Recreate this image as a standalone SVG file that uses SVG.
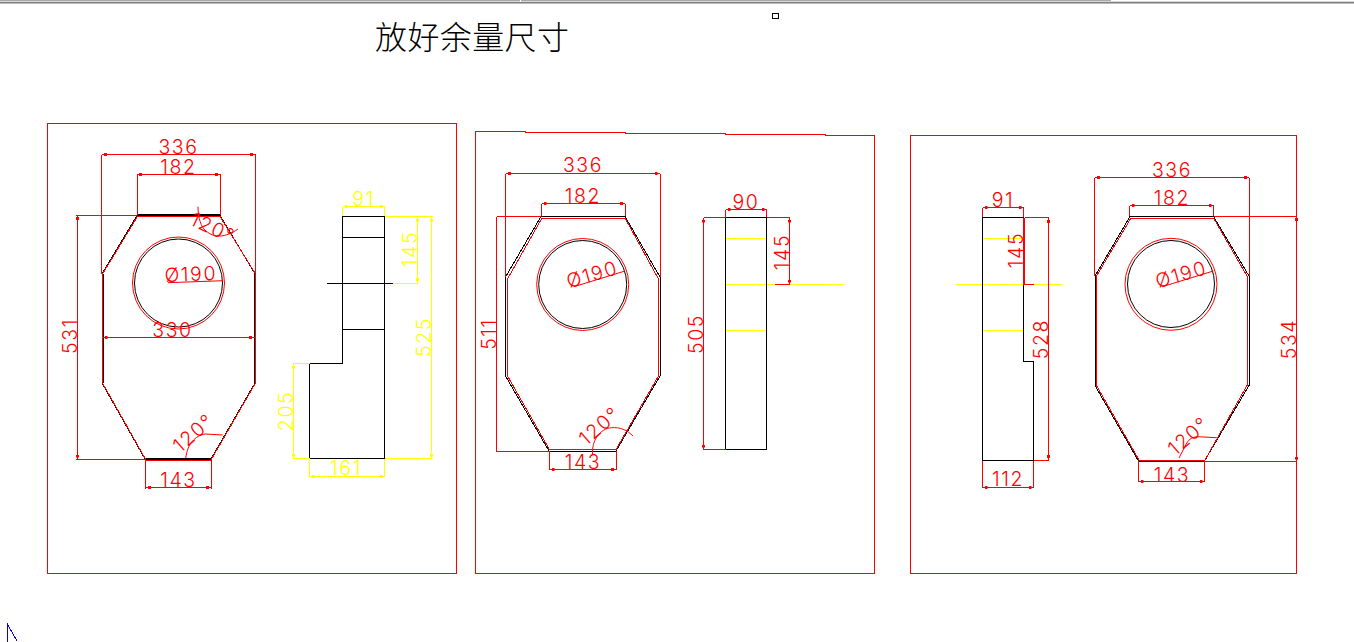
<svg xmlns="http://www.w3.org/2000/svg" width="1354" height="642" viewBox="0 0 1354 642">
<style>
svg{background:#fff}
path,rect,circle,polygon{fill:none;stroke-width:1}
.k{stroke:#000;shape-rendering:crispEdges}
.r{stroke:#f00;shape-rendering:crispEdges}
.y{stroke:#ff0;shape-rendering:crispEdges}
.rm{marker-mid:url(#tr)}
.ym{marker-mid:url(#ty)}
.c{stroke:#f00}
.ck{stroke:#000}
text{font-family:"Inter","Liberation Sans",sans-serif;font-weight:300;font-size:19.5px;letter-spacing:1.6px;text-anchor:middle}
.dr{fill:#f00}
.dy{fill:#ff0}
.title{font-family:"Noto Sans CJK SC",sans-serif;font-weight:300;font-size:32px;letter-spacing:.4px;text-anchor:start;fill:#000}
</style>
<defs>
<marker id="tr" viewBox="0 0 3 3" refX="1.5" refY="1.5" markerWidth="3" markerHeight="3" markerUnits="userSpaceOnUse"><rect width="3" height="3" style="fill:#f00;stroke:none"/></marker>
<marker id="ty" viewBox="0 0 3 3" refX="1.5" refY="1.5" markerWidth="3" markerHeight="3" markerUnits="userSpaceOnUse"><rect width="3" height="3" style="fill:#ff0;stroke:none"/></marker>
</defs>

<g id="window-edge">
<rect x="0" y="0" width="1111" height="1" style="fill:#a8a8a8;stroke:none"/>
<rect x="0" y="1" width="1354" height="1" style="fill:#d8d8d8;stroke:none"/>
<rect x="0" y="2" width="1354" height="1" style="fill:#808080;stroke:none"/>
<rect x="0" y="3" width="1354" height="1" style="fill:#b8b8b8;stroke:none"/>
<rect x="520" y="0" width="1" height="2" style="fill:#fff;stroke:none"/>
</g>
<text class="title" x="375" y="49">放好余量尺寸</text>
<rect id="grip" class="k" x="772.5" y="13.5" width="6" height="5"/>
<path id="ucs-icon" d="M7.5 642V624.5L17 641" style="stroke:#00f;shape-rendering:crispEdges"/>

<g id="panel-1"><rect class="r" x="47.5" y="123.5" width="409" height="450"/></g>
<g id="panel-2"><path class="r" d="M475.5 131.5H525V132.5H625V133.5H725V134.5H825V135.5H874.5V573.5H475.5Z"/></g>
<g id="panel-3"><rect class="r" x="910.5" y="135.5" width="386" height="438"/></g>

<g id="front-view-1">
<path class="k" d="M137 215.5H220L255 274V383L211 459H145L102 383V274Z"/>
<path class="k" d="M137 214.5H220M103.500 274V383M254.500 274V383M146 458.500H211"/>
<path class="r" d="M137.500 216.500H220L255.500 274V383L211 460H146L102.500 383V274Z"/>
<circle class="ck" cx="178.500" cy="283" r="44"/>
<circle class="c" cx="178.500" cy="283" r="46"/>
</g>
<g id="side-view-1">
<path class="k" d="M342.500 216.500H384.500V458.500H309.500V363.500H342.500ZM342.500 237.500H384.500M327 283.500H393M342.500 329.500H384.500"/>
</g>

<g id="front-view-2">
<path class="k" d="M541 216.500H625L660 277V376L616 451H549L505.500 376V277Z"/>
<path class="r" d="M542 218H625L658.500 279V376L616 449.500H549.500L507.500 376V279Z"/>
<circle class="ck" cx="582.700" cy="284.500" r="44"/>
<circle class="c" cx="582.700" cy="284.500" r="46"/>
</g>
<g id="side-view-2">
<path class="y" d="M725.500 238.500H766.500M725.500 284.500H775M789 284.500H843.500M725.500 330.500H766.500"/>
<rect class="k" x="725.500" y="217.500" width="41" height="232"/>
</g>

<g id="side-view-3">
<path class="y" d="M982.500 238.500H1023.500M956 284.500H1023.500M1034 284.500H1061.500M982.500 330.500H1023.500"/>
<path class="k" d="M982.500 217.500H1023.500V361.500H1033.500V460.500H982.500Z"/>
</g>
<g id="front-view-3">
<path class="k" d="M1130 216.500H1213.500L1249 276V385.500L1204.500 461H1138.500L1095 385.500V276Z"/>
<path class="r" d="M1131 218H1213.500L1247 276V385.500L1205 460H1139L1096.500 385.500V276Z"/>
<circle class="ck" cx="1171" cy="284" r="43.500"/>
<circle class="c" cx="1171" cy="284.300" r="46"/>
</g>

<g id="connectors">
<path class="r rm" d="M102 154.500H105.500L251.500 154.500H255.500"/>
<path class="r" d="M101.500 154.500V274M255.500 154.500V274"/>
<path class="r rm" d="M137 174.500H140.500L216.500 174.500H220.500"/>
<path class="r" d="M137.500 174.500V215M220.500 174.500V215"/>
<path class="r rm" d="M77.500 215.500V218.500L77.500 456V459.500"/>
<path class="r" d="M76 215.500H137M76 459.500H145"/>
<path class="r rm" d="M102 337.500H106L250.500 337.500H255"/>
<path class="r rm" d="M145.500 487.500H149.500L207.500 487.500H211.500"/>
<path class="r" d="M145.500 459V489M211.500 459V489"/>
<path class="c" d="M198 206.700C198 218 201 227 206 231C214 238 225 238 238 229"/>
<path class="c" d="M185.700 458C187 450 189 445 192 441.700C196 437 200 435 205 434L222.700 435"/>

<path class="y ym" d="M342.500 206.500H346L381 206.500H384.500"/>
<path class="y" d="M342.500 206.500V216M384.500 206.500V216"/>
<path class="y" d="M384.500 216.500H432.500M393 283.500H418M384.500 458.500H432.500M293 363.500H309.500M293 458.500H309.500"/>
<path class="y ym" d="M417.500 216.500V220L417.500 279.500V283.500"/>
<path class="y ym" d="M431.500 216.500V220L431.500 455V458.500"/>
<path class="y ym" d="M293.500 363.500V367L293.500 455V458.500"/>
<path class="y ym" d="M309.500 476.500H313L381 476.500H384.500"/>
<path class="y" d="M309.500 458.500V477M384.500 458.500V477"/>

<path class="r rm" d="M505.500 173.500H509.500L656 173.500H660"/>
<path class="r" d="M505.500 173.500V277M660.500 173.500V277"/>
<path class="r rm" d="M541.500 203.500H545L621.500 203.500H625"/>
<path class="r" d="M541.500 203.500V216M625.500 203.500V216"/>
<path class="r" d="M496.500 216.500V451.500M496.500 216.500H541M496.500 451.500H549"/>
<path class="r rm" d="M549.500 469.500H553L612.500 469.500H616"/>
<path class="r" d="M549.500 451V470M616.500 451V470"/>
<path class="c" d="M592.700 455C592 447 594 441 597 436.700C601 431 606 428 611.700 427.700C620 427 627 430 633 436"/>
<path class="c" d="M574 286.700L625 271"/>

<path class="r rm" d="M725.500 209.500H729L763 209.500H766.500"/>
<path class="r" d="M725.500 209.500V217M766.500 209.500V217"/>
<path class="r rm" d="M703.500 217.500V221L703.500 446V449.500"/>
<path class="r" d="M703.500 217.500H725.500M703.500 449.500H725.500M766.500 217.500H789.500M775 284.500H789.500"/>
<path class="r rm" d="M789.500 217.500V221L789.500 281V284.500"/>

<path class="r rm" d="M982.500 207.500H986L1020 207.500H1023.500"/>
<path class="r" d="M982.500 207.500V217M1023.500 207.500V217"/>
<path class="r" d="M1024.500 217.500H1048.500M1024.500 217.500V284.500M1023.500 217.500V284.500M1024 284.500H1034M1033.500 460.500H1048.500"/>
<path class="r rm" d="M1048.500 217.500V221.500L1048.500 456.500V460.500"/>
<path class="r rm" d="M982.500 487.500H986L1030 487.500H1033.500"/>
<path class="r" d="M982.500 460.500V488M1033.500 460.500V488"/>

<path class="r rm" d="M1095 177.500H1098.500L1245.500 177.500H1249"/>
<path class="r" d="M1094.500 177.500V276M1249.500 177.500V276"/>
<path class="r rm" d="M1129.500 205.500H1133L1210 205.500H1213.500"/>
<path class="r" d="M1129.500 205.500V216M1213.500 205.500V216"/>
<path class="r" d="M1213.500 216.500H1296M1204.500 461.500H1296"/>
<path class="r rm" d="M1296.500 216.500V219.500L1296.500 458V461.500"/>
<path class="r rm" d="M1138.500 481.500H1142L1201 481.500H1204.500"/>
<path class="r" d="M1138.500 461V482M1204.500 461V482"/>
<path class="c" d="M1179 458L1186.700 443C1189 439 1193 437 1197 436.700L1216.700 437.700"/>
<path class="c" d="M1162.300 286.700L1213.300 271"/>
<path class="c" d="M168 282.700L223 280.700"/>
</g>

<g id="dimension-labels">
<text class="dr" x="178.500" y="154">336</text>
<text class="dr" x="178.500" y="173.500">182</text>
<text class="dr" transform="translate(77 336) rotate(-90)">531</text>
<text class="dr" x="172.500" y="337">330</text>
<text class="dr" x="178.500" y="487">143</text>
<text class="dr" transform="translate(191 281) rotate(-2)">Ø190</text>
<text class="dr" transform="translate(210 234) rotate(25)">120°</text>
<text class="dr" transform="translate(198 438) rotate(-41)">120°</text>

<text class="dy" x="363.500" y="206">91</text>
<text class="dy" transform="translate(417 249) rotate(-90)">145</text>
<text class="dy" transform="translate(431 337) rotate(-90)">525</text>
<text class="dy" transform="translate(293 411) rotate(-90)">205</text>
<text class="dy" x="346" y="475">161</text>

<text class="dr" x="583" y="172">336</text>
<text class="dr" x="583" y="203">182</text>
<text class="dr" transform="translate(496 334) rotate(-90)">511</text>
<text class="dr" x="583" y="469">143</text>
<text class="dr" transform="translate(594 281) rotate(-16)">Ø190</text>
<text class="dr" transform="translate(604 431) rotate(-41)">120°</text>

<text class="dr" x="746" y="209">90</text>
<text class="dr" transform="translate(703 334) rotate(-90)">505</text>
<text class="dr" transform="translate(789 252) rotate(-90)">145</text>

<text class="dr" x="1003" y="207">91</text>
<text class="dr" transform="translate(1023 250) rotate(-90)">145</text>
<text class="dr" transform="translate(1048 339) rotate(-90)">528</text>
<text class="dr" x="1008" y="486">112</text>

<text class="dr" x="1172" y="177">336</text>
<text class="dr" x="1172" y="205">182</text>
<text class="dr" transform="translate(1296 339) rotate(-90)">534</text>
<text class="dr" x="1172" y="482">143</text>
<text class="dr" transform="translate(1183 281) rotate(-16)">Ø190</text>
<text class="dr" transform="translate(1193 441) rotate(-41)">120°</text>
</g>
</svg>
